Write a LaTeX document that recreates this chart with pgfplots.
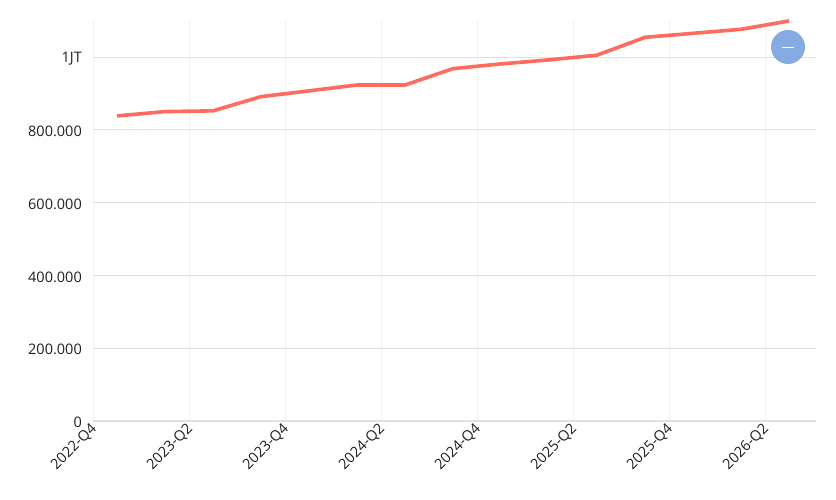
\documentclass[border=0pt]{standalone}
\usepackage{fontspec}
\setmainfont{Open Sans}
\usepackage{pgfplots}
\pgfplotsset{compat=1.18}
\definecolor{linered}{RGB}{255,107,94}
\definecolor{hgrid}{RGB}{224,224,224}
\definecolor{vgrid}{RGB}{240,240,240}
\definecolor{bubble}{RGB}{127,166,224}
\begin{document}
\begin{tikzpicture}[x=1bp,y=1bp]
\useasboundingbox (0,0) rectangle (836,500);
\begin{axis}[
    at={(93bp,79bp)}, anchor=south west,
    scale only axis, width=723bp, height=401bp,
    xmin=0, xmax=15.06, ymin=0, ymax=1101600,
    xtick={0,2,4,6,8,10,12,14},
    xticklabels={2022-Q4,2023-Q2,2023-Q4,2024-Q2,2024-Q4,2025-Q2,2025-Q4,2026-Q2},
    ytick={0,200000,400000,600000,800000,1000000},
    yticklabels={0,200.000,400.000,600.000,800.000,1JT},
    scaled ticks=false,
    xmajorgrids, ymajorgrids,
    x grid style={vgrid, line width=0.8bp},
    y grid style={hgrid, line width=0.8bp},
    axis x line*=bottom, axis y line*=left,
    x axis line style={hgrid, line width=1.4bp, -},
    y axis line style={draw=none},
    major tick length=0pt,
    tick label style={font=\fontsize{14.5bp}{17bp}\selectfont, text=black!88},
    xticklabel style={rotate=45, anchor=east, inner sep=1bp, xshift=-2bp, yshift=-5bp},
    yticklabel style={inner sep=2bp, xshift=-9bp, yshift=-1.5bp},
    /pgf/number format/assume math mode=true,
    clip=false,
]
\addplot[linered, line width=3.6bp, line join=round] coordinates {
    (0.5,838000) (1.5,850000) (2.5,852000) (3.5,891000) (4.5,907000)
    (5.5,923000) (6.5,923000) (7.5,968000) (8.5,981000) (9.5,992000)
    (10.5,1005000) (11.5,1054000) (12.5,1065000) (13.5,1076000) (14.5,1099000)
};
\end{axis}
\fill[bubble, opacity=0.95] (788,453) circle (17);
\draw[white, line width=0.8bp] (782,453) -- (794,453);
\end{tikzpicture}
\end{document}
